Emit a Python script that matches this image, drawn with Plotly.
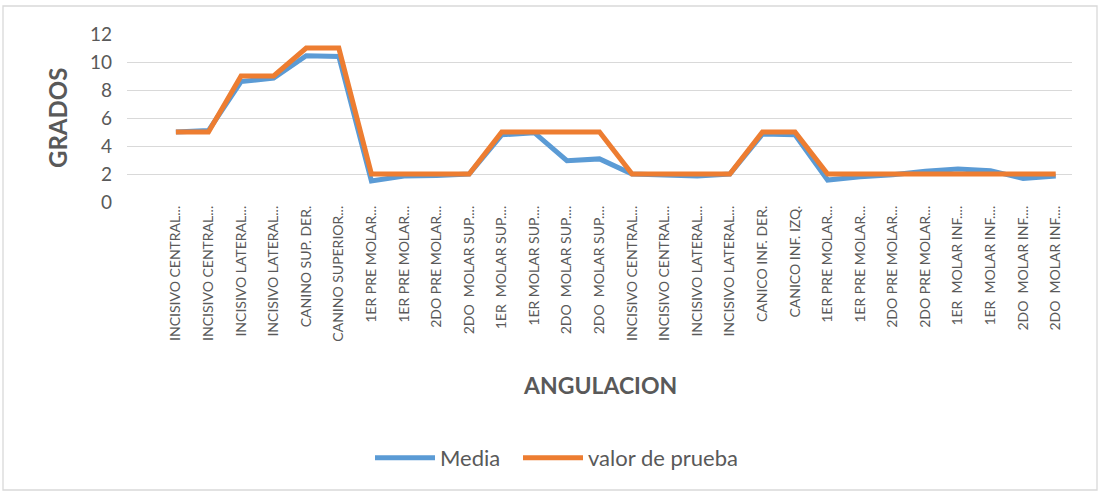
import plotly.graph_objects as go

NB = "\u00a0"
categories = [
    "INCISIVO CENTRAL...", "INCISIVO CENTRAL...", "INCISIVO LATERAL...", "INCISIVO LATERAL...",
    "CANINO SUP. DER.", "CANINO SUPERIOR...", "1ER PRE MOLAR...", "1ER PRE MOLAR...",
    "2DO PRE MOLAR...", "2DO" + NB + NB + "MOLAR SUP....", "1ER" + NB + NB + "MOLAR SUP....",
    "1ER MOLAR SUP....", "2DO" + NB + NB + "MOLAR SUP....", "2DO" + NB + NB + "MOLAR SUP....",
    "INCISIVO CENTRAL...", "INCISIVO CENTRAL...", "INCISIVO LATERAL...", "INCISIVO LATERAL...",
    "CANICO INF. DER.", "CANICO INF. IZQ.", "1ER PRE MOLAR...", "1ER PRE MOLAR...",
    "2DO PRE MOLAR...", "2DO PRE MOLAR...", "1ER" + NB + NB + "MOLAR INF....", "1ER" + NB + NB + "MOLAR INF....",
    "2DO" + NB + NB + "MOLAR INF....", "2DO" + NB + NB + "MOLAR INF....",
]
media = [5.0, 5.1, 8.6, 8.85, 10.45, 10.4, 1.5, 1.85, 1.9, 2.0, 4.8, 4.95,
         2.95, 3.08, 2.0, 1.93, 1.85, 2.0, 4.85, 4.8, 1.57, 1.8, 1.95, 2.2,
         2.36, 2.24, 1.68, 1.85]
valor_prueba = [5, 5, 9, 9, 11, 11, 2, 2, 2, 2, 5, 5, 5, 5, 2, 2, 2, 2, 5, 5,
                2, 2, 2, 2, 2, 2, 2, 2]
y_ticks = [0, 2, 4, 6, 8, 10, 12]

x = list(range(len(categories)))
GRAY = "#595959"
FONT = "Lato, 'Open Sans', sans-serif"

fig = go.Figure()
fig.add_trace(go.Scatter(x=x, y=media, mode="lines", name="Media", legend="legend",
                         line=dict(color="#5B9BD5", width=5, shape="linear")))
fig.add_trace(go.Scatter(x=x, y=valor_prueba, mode="lines", name="valor de prueba",
                         legend="legend2", line=dict(color="#ED7D31", width=5)))

L, R, T, B = 127, 29, 34, 292
W, H = 1101, 494
pw, ph = W - L - R, H - T - B

def px_x(X):
    return (X - L) / pw

def px_y(Y):
    return (H - B - Y) / ph

legend_common = dict(orientation="h", yanchor="middle", xanchor="left",
                     font=dict(size=22, color=GRAY), itemwidth=60,
                     bgcolor="rgba(0,0,0,0)")

fig.update_layout(
    width=W, height=H,
    margin=dict(l=L, r=R, t=T, b=B, autoexpand=False),
    paper_bgcolor="white", plot_bgcolor="white",
    font=dict(family=FONT, color=GRAY),
    showlegend=True,
    legend=dict(x=px_x(370), y=px_y(458), **legend_common),
    legend2=dict(x=px_x(518), y=px_y(458), **legend_common),
    xaxis=dict(range=[-1.5, 27.5], tickmode="array", tickvals=x, ticktext=categories,
               tickangle=-90, tickfont=dict(size=14, color=GRAY), showgrid=False,
               zeroline=False, showline=False, ticks="", automargin=False),
    yaxis=dict(range=[0, 12], tickvals=y_ticks, tickfont=dict(size=19, color=GRAY),
               showgrid=True, gridcolor="#D9D9D9", gridwidth=1.3, zeroline=False,
               showline=False, ticks="", ticklabelstandoff=14, automargin=False),
    annotations=[
        dict(text="<b>ANGULACION</b>", xref="paper", yref="paper", x=px_x(600), y=px_y(385),
             showarrow=False, font=dict(size=23, color=GRAY), xanchor="center", yanchor="middle"),
        dict(text="<b>GRADOS</b>", xref="paper", yref="paper", x=px_x(57), y=px_y(118),
             showarrow=False, textangle=-90, font=dict(size=24, color=GRAY),
             xanchor="center", yanchor="middle"),
    ],
    shapes=[
        dict(type="rect", xref="paper", yref="paper", x0=px_x(3), x1=px_x(1097),
             y0=px_y(490), y1=px_y(6), line=dict(color="#D9D9D9", width=1.3), layer="below"),
    ],
)

fig.write_html("out.html", config={"displayModeBar": False},
               post_script="document.body.style.margin='0';")
